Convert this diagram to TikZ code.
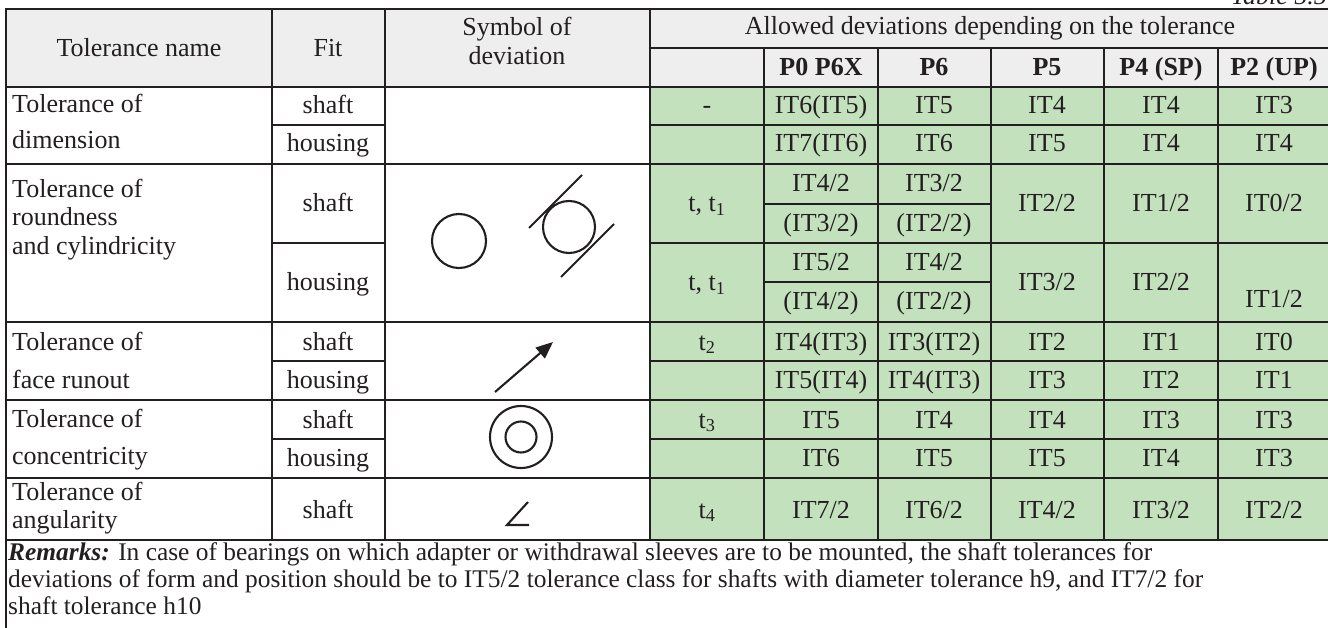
\documentclass[tikz,border=0pt]{standalone}
\usepackage{fontspec}
\setmainfont{Liberation Serif}
\usetikzlibrary{arrows.meta}

\definecolor{headgray}{RGB}{238,238,238}
\definecolor{cellgreen}{RGB}{196,225,190}
\definecolor{ink}{RGB}{35,31,32}

\begin{document}
\begin{tikzpicture}[x=1pt,y=-1pt,color=ink,
  every node/.style={font=\fontsize{26}{28}\selectfont,inner sep=0pt,anchor=base},
  lefttxt/.style={anchor=base west},
  bold/.style={font=\fontsize{26}{28}\selectfont\bfseries},
  grid/.style={line width=2.4pt,line cap=rect},
  sym/.style={line width=2.1pt}]
  \useasboundingbox (0,0) rectangle (1328,628);

  % fills
  \fill[headgray] (6,9) rectangle (1331,87);
  \fill[cellgreen] (650,87) rectangle (1331,540);

  % table number, cut at the top
  \node[anchor=base east,font=\fontsize{26}{28}\selectfont\itshape] (tabno) at (1327,5) {Table 5.5};

  % horizontal rules
  \draw[grid] (6,9) -- (1331,9);
  \draw[grid] (650,48) -- (1331,48);
  \draw[grid] (6,87) -- (1331,87);
  \draw[grid] (272,125) -- (385,125);
  \draw[grid] (650,125) -- (1331,125);
  \draw[grid] (6,164) -- (1331,164);
  \draw[grid] (764,204) -- (991,204);
  \draw[grid] (272,243) -- (385,243);
  \draw[grid] (650,243) -- (1331,243);
  \draw[grid] (764,282) -- (991,282);
  \draw[grid] (6,322) -- (1331,322);
  \draw[grid] (272,361) -- (385,361);
  \draw[grid] (650,361) -- (1331,361);
  \draw[grid] (6,400) -- (1331,400);
  \draw[grid] (272,439) -- (385,439);
  \draw[grid] (650,439) -- (1331,439);
  \draw[grid] (6,478) -- (1331,478);
  \draw[grid] (6,540) -- (1331,540);

  % vertical rules
  \draw[grid] (6,9) -- (6,640);
  \draw[grid] (1331,9) -- (1331,640);
  \draw[grid] (272,9) -- (272,540);
  \draw[grid] (385,9) -- (385,540);
  \draw[grid] (650,9) -- (650,540);
  \draw[grid] (764,48) -- (764,540);
  \draw[grid] (878,48) -- (878,540);
  \draw[grid] (991,48) -- (991,540);
  \draw[grid] (1104,48) -- (1104,540);
  \draw[grid] (1218,48) -- (1218,540);

  % header
  \node (hname) at (139,57) {Tolerance name};
  \node (hfit) at (328,57) {Fit};
  \node (hsym1) at (517,36) {Symbol of};
  \node (hsym2) at (517,65) {deviation};
  \node (hallow) at (990,35) {Allowed deviations depending on the tolerance};
  \node[bold] (hp0) at (821,76) {P0 P6X};
  \node[bold] (hp6) at (934,76) {P6};
  \node[bold] (hp5) at (1047,76) {P5};
  \node[bold] (hp4) at (1161,76) {P4 (SP)};
  \node[bold] (hp2) at (1274,76) {P2 (UP)};

  % tolerance of dimension
  \node[lefttxt] (dimA) at (12,113) {Tolerance of};
  \node[lefttxt] (dimB) at (12,149) {dimension};
  \node (dimS) at (328,114) {shaft};
  \node (dimH) at (328,152) {housing};
  \node (dimSt) at (707,114) {-};
  \node (dimS0) at (821,114) {IT6(IT5)};
  \node (dimS6) at (934,114) {IT5};
  \node (dimS5) at (1047,114) {IT4};
  \node (dimS4) at (1161,114) {IT4};
  \node (dimS2) at (1274,114) {IT3};
  \node (dimH0) at (821,152) {IT7(IT6)};
  \node (dimH6) at (934,152) {IT6};
  \node (dimH5) at (1047,152) {IT5};
  \node (dimH4) at (1161,152) {IT4};
  \node (dimH2) at (1274,152) {IT4};

  % tolerance of roundness and cylindricity
  \node[lefttxt] (rndA) at (12,198) {Tolerance of};
  \node[lefttxt] (rndB) at (12,226) {roundness};
  \node[lefttxt] (rndC) at (12,255) {and cylindricity};
  \node (rndS) at (328,212) {shaft};
  \node (rndH) at (328,291) {housing};
  \node (rndSt) at (707,212) {t, t\textsubscript{1}};
  \node (rndS0a) at (821,192) {IT4/2};
  \node (rndS0b) at (821,232) {(IT3/2)};
  \node (rndS6a) at (934,192) {IT3/2};
  \node (rndS6b) at (934,232) {(IT2/2)};
  \node (rndS5) at (1047,212) {IT2/2};
  \node (rndS4) at (1161,212) {IT1/2};
  \node (rndS2) at (1274,212) {IT0/2};
  \node (rndHt) at (707,291) {t, t\textsubscript{1}};
  \node (rndH0a) at (821,271) {IT5/2};
  \node (rndH0b) at (821,310) {(IT4/2)};
  \node (rndH6a) at (934,271) {IT4/2};
  \node (rndH6b) at (934,310) {(IT2/2)};
  \node (rndH5) at (1047,291) {IT3/2};
  \node (rndH4) at (1161,291) {IT2/2};
  \node (rndH2) at (1274,308) {IT1/2};
  \draw[sym] (459,241) circle[radius=27pt];
  \draw[sym] (569,227) circle[radius=26pt];
  \draw[sym] (529,228) -- (582,175);
  \draw[sym] (561,277) -- (614,224);

  % tolerance of face runout
  \node[lefttxt] (runA) at (12,350) {Tolerance of};
  \node[lefttxt] (runB) at (12,388) {face runout};
  \node (runS) at (328,350) {shaft};
  \node (runH) at (328,388) {housing};
  \node (runSt) at (707,350) {t\textsubscript{2}};
  \node (runS0) at (821,350) {IT4(IT3)};
  \node (runS6) at (934,350) {IT3(IT2)};
  \node (runS5) at (1047,350) {IT2};
  \node (runS4) at (1161,350) {IT1};
  \node (runS2) at (1274,350) {IT0};
  \node (runH0) at (821,388) {IT5(IT4)};
  \node (runH6) at (934,388) {IT4(IT3)};
  \node (runH5) at (1047,388) {IT3};
  \node (runH4) at (1161,388) {IT2};
  \node (runH2) at (1274,388) {IT1};
  \draw[sym,-{Triangle[length=17pt,width=14pt]}] (495,392) -- (553,342);

  % tolerance of concentricity
  \node[lefttxt] (conA) at (12,427) {Tolerance of};
  \node[lefttxt] (conB) at (12,464) {concentricity};
  \node (conS) at (328,428) {shaft};
  \node (conH) at (328,466) {housing};
  \node (conSt) at (707,428) {t\textsubscript{3}};
  \node (conS0) at (821,428) {IT5};
  \node (conS6) at (934,428) {IT4};
  \node (conS5) at (1047,428) {IT4};
  \node (conS4) at (1161,428) {IT3};
  \node (conS2) at (1274,428) {IT3};
  \node (conH0) at (821,466) {IT6};
  \node (conH6) at (934,466) {IT5};
  \node (conH5) at (1047,466) {IT5};
  \node (conH4) at (1161,466) {IT4};
  \node (conH2) at (1274,466) {IT3};
  \draw[sym] (521,437) circle[radius=31pt];
  \draw[sym] (521,437) circle[radius=15.5pt];

  % tolerance of angularity
  \node[lefttxt] (angA) at (12,500) {Tolerance of};
  \node[lefttxt] (angB) at (12,528) {angularity};
  \node (angS) at (328,518) {shaft};
  \node (angSt) at (707,518) {t\textsubscript{4}};
  \node (angS0) at (821,518) {IT7/2};
  \node (angS6) at (934,518) {IT6/2};
  \node (angS5) at (1047,518) {IT4/2};
  \node (angS4) at (1161,518) {IT3/2};
  \node (angS2) at (1274,518) {IT2/2};
  \draw[sym] (528,502) -- (507,525) -- (529,525);

  % remarks
  \node[lefttxt,font=\fontsize{25.4}{28}\selectfont] (remA) at (8,560) {\textbf{\textit{Remarks:}} In case of bearings on which adapter or withdrawal sleeves are to be mounted, the shaft tolerances for};
  \node[lefttxt,font=\fontsize{25.4}{28}\selectfont] (remB) at (8,587) {deviations of form and position should be to IT5/2 tolerance class for shafts with diameter tolerance h9, and IT7/2 for};
  \node[lefttxt,font=\fontsize{25.4}{28}\selectfont] (remC) at (8,614) {shaft tolerance h10};
\end{tikzpicture}
\end{document}
